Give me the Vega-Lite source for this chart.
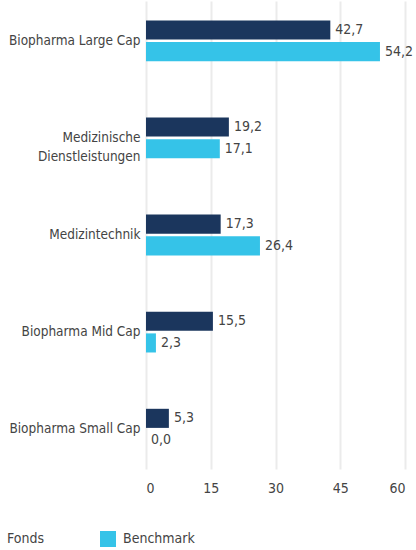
{
  "$schema": "https://vega.github.io/schema/vega-lite/v6.json",
  "width": 259,
  "height": 468,
  "autosize": {"type": "none"},
  "padding": {"left": 146, "top": 1, "right": 11, "bottom": 81},
  "config": {
    "locale": {"number": {"decimal": ",", "thousands": ".", "grouping": [3], "currency": ["", " €"]}},
    "view": {"stroke": null},
    "font": "DejaVu Sans Condensed, sans-serif",
    "axis": {"labelFont": "DejaVu Sans Condensed, sans-serif", "labelColor": "#444444", "labelFontSize": 14},
    "legend": {"labelFont": "DejaVu Sans Condensed, sans-serif", "labelColor": "#444444", "labelFontSize": 14}
  },
  "data": {
    "values": [
      {"Kategorie": "Biopharma Large Cap", "Serie": "Fonds", "Wert": 42.7},
      {"Kategorie": "Biopharma Large Cap", "Serie": "Benchmark", "Wert": 54.2},
      {"Kategorie": "Medizinische Dienstleistungen", "Serie": "Fonds", "Wert": 19.2},
      {"Kategorie": "Medizinische Dienstleistungen", "Serie": "Benchmark", "Wert": 17.1},
      {"Kategorie": "Medizintechnik", "Serie": "Fonds", "Wert": 17.3},
      {"Kategorie": "Medizintechnik", "Serie": "Benchmark", "Wert": 26.4},
      {"Kategorie": "Biopharma Mid Cap", "Serie": "Fonds", "Wert": 15.5},
      {"Kategorie": "Biopharma Mid Cap", "Serie": "Benchmark", "Wert": 2.3},
      {"Kategorie": "Biopharma Small Cap", "Serie": "Fonds", "Wert": 5.3},
      {"Kategorie": "Biopharma Small Cap", "Serie": "Benchmark", "Wert": 0.0}
    ]
  },
  "encoding": {
    "y": {
      "field": "Kategorie",
      "type": "nominal",
      "sort": ["Biopharma Large Cap", "Medizinische Dienstleistungen", "Medizintechnik", "Biopharma Mid Cap", "Biopharma Small Cap"],
      "scale": {"paddingInner": 0.58, "paddingOuter": 0.2},
      "axis": {
        "title": null,
        "domain": false,
        "ticks": false,
        "grid": false,
        "labelPadding": 6,
        "labelFontSize": 13.5,
        "labelLineHeight": 19,
        "labelExpr": "datum.value == 'Medizinische Dienstleistungen' ? ['Medizinische', 'Dienstleistungen'] : datum.value"
      }
    },
    "yOffset": {
      "field": "Serie",
      "type": "nominal",
      "sort": ["Fonds", "Benchmark"],
      "scale": {"paddingInner": 0.12}
    },
    "x": {
      "field": "Wert",
      "type": "quantitative",
      "scale": {"domain": [0, 60], "nice": false},
      "axis": {
        "title": null,
        "values": [0, 15, 30, 45, 60],
        "domain": false,
        "ticks": false,
        "grid": true,
        "gridColor": "#ebebeb",
        "gridWidth": 2,
        "labelPadding": 12
      }
    }
  },
  "layer": [
    {
      "mark": {"type": "bar"},
      "encoding": {
        "color": {
          "field": "Serie",
          "type": "nominal",
          "sort": ["Fonds", "Benchmark"],
          "scale": {"domain": ["Fonds", "Benchmark"], "range": ["#1b365d", "#35c3e8"]},
          "legend": {
            "title": null,
            "orient": "none",
            "direction": "horizontal",
            "legendX": -162,
            "legendY": 530,
            "symbolType": "square",
            "symbolSize": 256,
            "symbolStrokeWidth": 0,
            "labelOffset": 7,
            "columnPadding": 56,
            "encode": {
              "symbols": {
                "update": {
                  "opacity": {"signal": "datum.value === 'Fonds' ? 0 : 1"}
                }
              }
            }
          }
        }
      }
    },
    {
      "mark": {"type": "text", "align": "left", "baseline": "middle", "dx": 5, "fontSize": 14, "color": "#444444", "font": "DejaVu Sans Condensed, sans-serif"},
      "encoding": {
        "text": {"field": "Wert", "type": "quantitative", "format": ".1f"}
      }
    }
  ]
}
